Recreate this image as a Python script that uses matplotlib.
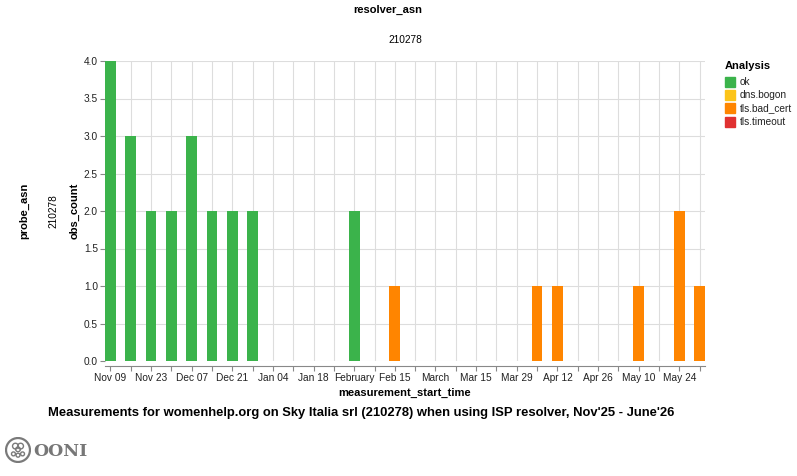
import datetime as dt

import matplotlib
matplotlib.use('Agg')
import matplotlib.pyplot as plt
import matplotlib.dates as mdates
from matplotlib.patches import Rectangle, Circle
from matplotlib.ticker import FixedLocator, FixedFormatter

W, H = 797, 476

# weekly buckets (week starting on Sunday)
ok_weeks = ['2025-11-09', '2025-11-16', '2025-11-23', '2025-11-30', '2025-12-07',
            '2025-12-14', '2025-12-21', '2025-12-28', '2026-02-01']
ok_counts = [4, 3, 2, 2, 3, 2, 2, 2, 2]

bad_cert_weeks = ['2026-02-15', '2026-04-05', '2026-04-12', '2026-05-10', '2026-05-24', '2026-05-31']
bad_cert_counts = [1, 1, 1, 1, 2, 1]

legend_labels = ['ok', 'dns.bogon', 'tls.bad_cert', 'tls.timeout']
legend_colors = ['#3bb34b', '#fcc419', '#ff8500', '#e03131']

first_week = dt.date(2025, 11, 9)
last_week = dt.date(2026, 5, 31)

plt.rcParams['font.family'] = ['Liberation Sans', 'DejaVu Sans']


def px(x, y):
    return x / W, 1 - y / H


def to_num(days):
    return [mdates.date2num(dt.datetime.strptime(d, '%Y-%m-%d')) for d in days]


fig = plt.figure(figsize=(W / 100, H / 100), dpi=100)
ax = fig.add_axes([105 / W, 115 / H, 600 / W, 300 / H])

half = 1.85
ax.bar(to_num(ok_weeks), ok_counts, width=2 * half, color=legend_colors[0], zorder=2)
ax.bar(to_num(bad_cert_weeks), bad_cert_counts, width=2 * half, color=legend_colors[2], zorder=2)

x0 = mdates.date2num(first_week)
x1 = mdates.date2num(last_week)
ax.set_xlim(x0 - half, x1 + half)
ax.set_ylim(0, 4)

# weekly ticks, label every other one
ticks, labels = [], []
d = first_week
i = 0
while d <= last_week:
    ticks.append(mdates.date2num(d))
    if i % 2 == 0:
        labels.append(d.strftime('%B') if d.day == 1 else d.strftime('%b %d'))
    else:
        labels.append('')
    d += dt.timedelta(days=7)
    i += 1
ax.xaxis.set_major_locator(FixedLocator(ticks))
ax.xaxis.set_major_formatter(FixedFormatter(labels))
ax.set_yticks([0, 0.5, 1, 1.5, 2, 2.5, 3, 3.5, 4])
ax.set_yticklabels(['%.1f' % v for v in ax.get_yticks()])

ax.grid(True, color='#dddddd', linewidth=0.8, zorder=0)
ax.set_axisbelow(True)
for s in ['top', 'right', 'left']:
    ax.spines[s].set_visible(False)
ax.spines['bottom'].set_position(('outward', 3.6))
ax.spines['bottom'].set_color('#888888')
ax.spines['bottom'].set_linewidth(0.8)
ax.tick_params(axis='both', length=3.6, width=0.8, color='#888888',
               labelsize=7.3, labelcolor='#222222', pad=1.5)

# titles and axis names
fig.text(*px(388, 10), 'resolver_asn', ha='center', va='center', fontsize=8, fontweight='bold')
fig.text(*px(405, 40), '210278', ha='center', va='center', fontsize=7.3)
fig.text(*px(405, 393), 'measurement_start_time', ha='center', va='center', fontsize=8, fontweight='bold')
fig.text(*px(24, 211), 'probe_asn', ha='center', va='center', rotation=90, fontsize=8, fontweight='bold')
fig.text(*px(53, 211), '210278', ha='center', va='center', rotation=90, fontsize=7.3)
fig.text(*px(75, 211), 'obs_count', ha='center', va='center', rotation=90, fontsize=8, fontweight='bold')

# legend
fig.text(*px(725, 66), 'Analysis', ha='left', va='center', fontsize=8, fontweight='bold')
for k, (lab, col) in enumerate(zip(legend_labels, legend_colors)):
    y = 82 + k * 13.2
    fig.patches.append(Rectangle(px(725, y + 5), 10 / W, 10 / H, color=col,
                                 transform=fig.transFigure, figure=fig))
    fig.text(*px(740, y), lab, ha='left', va='center', fontsize=7.3, color='#222222')

# caption
fig.text(*px(361.5, 413), "Measurements for womenhelp.org on Sky Italia srl (210278) when using ISP resolver, Nov'25 - June'26",
         ha='center', va='center', fontsize=9.35, fontweight='bold')

# OONI mark
logo = fig.add_axes([5 / W, 1 - 463 / H, 26 / W, 26 / H])
logo.set_xlim(-1, 1)
logo.set_ylim(-1, 1)
logo.set_aspect('equal')
logo.axis('off')
logo.add_patch(Circle((0, 0), 0.92, fill=False, ec='#7a7a7a', lw=1.6))
for cx, cy, r in [(-0.2, 0.3, 0.22), (0.2, 0.3, 0.22), (0.0, 0.05, 0.18),
                  (-0.35, -0.3, 0.15), (0.0, -0.4, 0.15), (0.35, -0.3, 0.15)]:
    logo.add_patch(Circle((cx, cy), r, fill=False, ec='#7a7a7a', lw=1.0))
fig.text(*px(33, 451), 'OONI', ha='left', va='center', fontsize=12.5, fontweight='bold',
         family='DejaVu Serif', color='#777777')

fig.savefig('out.png', dpi=100)
